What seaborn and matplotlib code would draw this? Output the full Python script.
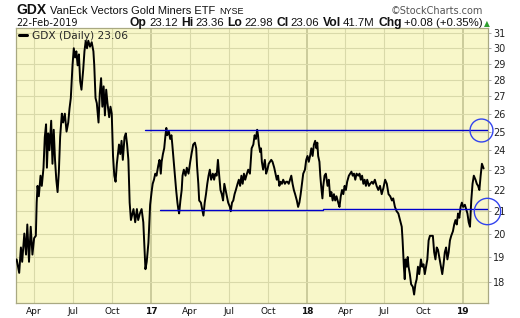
import matplotlib
matplotlib.use("Agg")
import matplotlib.pyplot as plt
import seaborn as sns
import pandas as pd

# ---------------- data ----------------
dates_2016 = ["2016-02-20", "2016-02-26", "2016-03-01", "2016-03-04", "2016-03-09", "2016-03-13",
              "2016-03-16", "2016-03-20", "2016-03-24", "2016-03-28", "2016-04-01", "2016-04-05",
              "2016-04-07", "2016-04-09", "2016-04-12", "2016-04-16", "2016-04-19", "2016-04-23",
              "2016-04-26", "2016-04-29", "2016-05-01", "2016-05-04", "2016-05-07", "2016-05-11",
              "2016-05-14", "2016-05-17", "2016-05-20", "2016-05-23", "2016-05-26", "2016-05-29",
              "2016-06-01", "2016-06-05", "2016-06-08", "2016-06-12", "2016-06-16", "2016-06-20",
              "2016-06-23", "2016-06-26", "2016-06-30", "2016-07-03", "2016-07-06", "2016-07-09",
              "2016-07-12", "2016-07-15", "2016-07-18", "2016-07-21", "2016-07-25", "2016-07-28",
              "2016-07-31", "2016-08-03", "2016-08-06", "2016-08-10", "2016-08-14", "2016-08-18",
              "2016-08-20", "2016-08-23", "2016-08-26", "2016-08-30", "2016-09-02", "2016-09-05",
              "2016-09-08", "2016-09-11", "2016-09-14", "2016-09-17", "2016-09-20", "2016-09-24",
              "2016-09-27", "2016-09-30", "2016-10-03", "2016-10-06", "2016-10-09", "2016-10-12",
              "2016-10-17", "2016-10-20", "2016-10-23", "2016-10-26", "2016-10-30", "2016-11-02",
              "2016-11-05", "2016-11-08", "2016-11-11", "2016-11-14", "2016-11-20", "2016-11-24",
              "2016-11-28", "2016-12-01", "2016-12-05", "2016-12-09", "2016-12-13", "2016-12-15",
              "2016-12-18", "2016-12-21", "2016-12-25", "2016-12-29"]
close_2016 = [18.9, 18.35, 19.4, 18.8, 20.0, 19.1,
              20.4, 18.8, 20.3, 19.1, 19.8, 19.9,
              21.4, 22.2, 21.7, 22.7, 22.2, 23.1,
              24.7, 25.4, 23.1, 24.9, 24.0, 25.6,
              23.3, 25.1, 23.5, 22.5, 21.9, 22.9,
              24.7, 26.0, 25.5, 26.0, 25.0, 25.5,
              26.3, 26.9, 28.9, 30.0, 29.4, 29.8,
              28.9, 29.6, 27.9, 27.4, 28.6, 29.8,
              30.5, 30.0, 30.5, 30.1, 30.4, 29.8,
              28.9, 26.9, 26.6, 25.5, 27.2, 28.1,
              26.4, 27.6, 25.9, 27.4, 26.6, 25.8,
              26.4, 26.0, 23.7, 22.7, 22.4, 23.3,
              24.3, 23.8, 24.5, 23.5, 24.7, 24.9,
              24.3, 23.5, 21.4, 20.6, 21.1, 20.5,
              21.1, 20.6, 20.9, 21.1, 20.5, 19.7,
              18.5, 18.8, 19.6, 21.3]

dates_2017 = ["2017-01-02", "2017-01-04", "2017-01-07", "2017-01-10", "2017-01-13", "2017-01-17",
              "2017-01-20", "2017-01-23", "2017-01-25", "2017-01-28", "2017-01-31", "2017-02-03",
              "2017-02-05", "2017-02-07", "2017-02-11", "2017-02-14", "2017-02-17", "2017-02-19",
              "2017-02-22", "2017-02-25", "2017-02-28", "2017-03-03", "2017-03-05", "2017-03-07",
              "2017-03-10", "2017-03-13", "2017-03-15", "2017-03-18", "2017-03-22", "2017-03-25",
              "2017-03-29", "2017-04-02", "2017-04-05", "2017-04-09", "2017-04-13", "2017-04-16",
              "2017-04-18", "2017-04-21", "2017-04-23", "2017-04-27", "2017-04-30", "2017-05-03",
              "2017-05-06", "2017-05-09", "2017-05-12", "2017-05-15", "2017-05-18", "2017-05-21",
              "2017-05-25", "2017-05-28", "2017-05-31", "2017-06-03", "2017-06-06", "2017-06-09",
              "2017-06-12", "2017-06-15", "2017-06-18", "2017-06-21", "2017-06-24", "2017-06-27",
              "2017-06-30", "2017-07-04", "2017-07-06", "2017-07-09", "2017-07-12", "2017-07-15",
              "2017-07-18", "2017-07-22", "2017-07-25", "2017-07-28", "2017-07-31", "2017-08-03",
              "2017-08-06", "2017-08-09", "2017-08-13", "2017-08-16", "2017-08-20", "2017-08-24",
              "2017-08-28", "2017-08-31", "2017-09-03", "2017-09-06", "2017-09-08", "2017-09-10",
              "2017-09-13", "2017-09-15", "2017-09-17", "2017-09-20", "2017-09-24", "2017-09-27",
              "2017-09-30", "2017-10-03", "2017-10-06", "2017-10-09", "2017-10-12", "2017-10-16",
              "2017-10-19", "2017-10-22", "2017-10-25", "2017-10-28", "2017-10-31", "2017-11-03",
              "2017-11-06", "2017-11-10", "2017-11-13", "2017-11-16", "2017-11-19", "2017-11-22",
              "2017-11-25", "2017-11-28", "2017-12-01", "2017-12-04", "2017-12-08", "2017-12-11",
              "2017-12-14", "2017-12-17", "2017-12-20", "2017-12-23", "2017-12-27", "2017-12-30"]
close_2017 = [22.0, 22.3, 22.5, 22.8, 22.7, 23.2,
              23.5, 22.8, 23.4, 23.8, 24.1, 24.8,
              25.2, 24.8, 25.0, 24.6, 24.8, 24.3,
              23.5, 22.7, 22.0, 21.4, 21.1, 20.9,
              21.5, 22.0, 22.7, 23.0, 22.7, 23.1,
              22.8, 23.4, 23.8, 24.3, 24.4, 24.1,
              23.2, 22.3, 21.5, 21.4, 21.1, 20.8,
              21.4, 21.8, 22.3, 22.7, 23.0, 22.5,
              22.8, 22.5, 22.8, 22.7, 23.5, 22.7,
              22.0, 21.8, 21.5, 22.3, 22.0, 21.7,
              21.4, 21.2, 21.0, 21.4, 21.5, 21.8,
              22.0, 22.3, 22.5, 22.2, 22.7, 22.3,
              22.8, 22.5, 22.8, 23.0, 22.8, 24.1,
              24.3, 24.8, 24.6, 25.1, 24.8, 24.3,
              23.9, 24.1, 23.4, 23.0, 23.5, 22.8,
              23.0, 23.3, 23.4, 23.5, 23.4, 23.1,
              22.8, 22.5, 22.7, 22.2, 22.4, 22.3,
              22.5, 22.3, 22.4, 22.4, 22.3, 22.5,
              22.7, 22.3, 22.0, 21.8, 21.5, 21.2,
              21.4, 21.8, 22.3, 22.8, 23.0, 23.5]

dates_2018 = ["2018-01-02", "2018-01-05", "2018-01-08", "2018-01-11", "2018-01-14", "2018-01-17",
              "2018-01-20", "2018-01-23", "2018-01-25", "2018-01-27", "2018-01-30", "2018-02-01",
              "2018-02-03", "2018-02-06", "2018-02-08", "2018-02-11", "2018-02-14", "2018-02-18",
              "2018-02-21", "2018-02-24", "2018-02-27", "2018-03-02", "2018-03-05", "2018-03-08",
              "2018-03-11", "2018-03-15", "2018-03-18", "2018-03-21", "2018-03-24", "2018-03-27",
              "2018-03-30", "2018-04-02", "2018-04-05", "2018-04-09", "2018-04-12", "2018-04-15",
              "2018-04-18", "2018-04-21", "2018-04-24", "2018-04-27", "2018-05-01", "2018-05-04",
              "2018-05-07", "2018-05-10", "2018-05-13", "2018-05-16", "2018-05-19", "2018-05-22",
              "2018-05-26", "2018-05-29", "2018-06-02", "2018-06-05", "2018-06-09", "2018-06-13",
              "2018-06-17", "2018-06-21", "2018-06-25", "2018-06-29", "2018-07-03", "2018-07-07",
              "2018-07-11", "2018-07-15", "2018-07-19", "2018-07-22", "2018-07-26", "2018-07-30",
              "2018-08-03", "2018-08-07", "2018-08-11", "2018-08-13", "2018-08-16", "2018-08-18",
              "2018-08-20", "2018-08-23", "2018-08-25", "2018-08-27", "2018-08-30", "2018-09-02",
              "2018-09-06", "2018-09-09", "2018-09-12", "2018-09-15", "2018-09-18", "2018-09-21",
              "2018-09-25", "2018-09-28", "2018-10-01", "2018-10-04", "2018-10-07", "2018-10-10",
              "2018-10-13", "2018-10-16", "2018-10-19", "2018-10-23", "2018-10-26", "2018-10-29",
              "2018-11-01", "2018-11-04", "2018-11-07", "2018-11-10", "2018-11-14", "2018-11-17",
              "2018-11-20", "2018-11-23", "2018-11-26", "2018-11-29", "2018-12-02", "2018-12-05",
              "2018-12-09", "2018-12-12", "2018-12-15", "2018-12-18", "2018-12-21", "2018-12-24",
              "2018-12-27", "2018-12-30"]
close_2018 = [23.7, 23.4, 23.7, 24.1, 23.7, 24.3,
              24.5, 24.1, 24.4, 23.7, 23.4, 22.7,
              22.2, 21.6, 22.2, 22.7, 22.8, 22.2,
              22.5, 21.7, 21.9, 21.5, 21.8, 21.5,
              21.7, 21.4, 21.2, 21.7, 22.0, 21.8,
              22.2, 22.0, 22.4, 22.7, 22.8, 22.9,
              22.7, 22.8, 22.5, 22.8, 22.7, 22.8,
              22.5, 22.7, 22.3, 22.5, 22.2, 22.5,
              22.2, 22.3, 22.4, 22.3, 22.5, 22.2,
              22.0, 22.2, 21.8, 22.1, 22.5, 22.3,
              21.8, 21.7, 21.5, 21.6, 21.2, 21.0,
              20.9, 20.6, 20.3, 19.7, 18.6, 18.1,
              18.9, 18.6, 19.0, 18.6, 18.3, 17.9,
              17.8, 17.5, 17.9, 18.1, 18.6, 18.3,
              18.9, 18.6, 18.7, 18.3, 18.6, 18.9,
              19.7, 19.9, 19.9, 19.9, 19.2, 18.9,
              19.4, 19.3, 19.0, 18.7, 18.3, 18.7,
              19.2, 19.4, 18.9, 19.2, 19.7, 19.9,
              20.1, 20.4, 20.6, 20.4, 20.9, 20.7,
              21.2, 21.4]

dates_2019 = ["2019-01-02", "2019-01-06", "2019-01-09", "2019-01-12", "2019-01-15", "2019-01-18",
              "2019-01-21", "2019-01-24", "2019-01-27", "2019-01-31", "2019-02-03", "2019-02-06",
              "2019-02-09", "2019-02-12", "2019-02-15", "2019-02-19"]
close_2019 = [21.2, 21.3, 21.1, 20.9, 20.5, 20.3,
              21.5, 22.3, 22.7, 22.5, 22.3, 22.2,
              22.0, 22.7, 23.3, 23.06]

# drawn support / resistance lines
line_starts = ["2016-12-17", "2017-01-21", "2018-02-07"]
line_ends = ["2019-03-01", "2018-02-07", "2019-03-01"]
line_levels = [25.1, 21.07, 21.12]

# circled levels on the right edge
circle_dates = ["2019-02-13", "2019-02-27"]
circle_levels = [25.06, 21.0]

# axis ticks
tick_dates = ["2016-04-01", "2016-07-01", "2016-10-01", "2017-01-01", "2017-04-01", "2017-07-01",
              "2017-10-01", "2018-01-01", "2018-04-01", "2018-07-01", "2018-10-01", "2019-01-01"]
tick_labels = ["Apr", "Jul", "Oct", "17", "Apr", "Jul", "Oct", "18", "Apr", "Jul", "Oct", "19"]
y_ticks = [18, 19, 20, 21, 22, 23, 24, 25, 26, 27, 28, 29, 30, 31]
x_range = ["2016-02-18 12:00", "2019-03-01 06:00"]
y_range = [17.18, 31.36]

# ---------------- figure ----------------
W, H = 520, 318
sns.set_style("ticks")
plt.rcParams["font.family"] = ["DejaVu Sans"]

df = pd.DataFrame({
    "date": pd.to_datetime(dates_2016 + dates_2017 + dates_2018 + dates_2019),
    "close": close_2016 + close_2017 + close_2018 + close_2019,
})

fig = plt.figure(figsize=(W / 100, H / 100), dpi=100)
fig.patch.set_facecolor("white")
ax = fig.add_axes([16 / W, 1 - 303 / H, (488 - 16) / W, (303 - 28) / H])
ax.set_facecolor("#F8F7C9")

ax.set_yscale("log")
ax.set_xlim(pd.to_datetime(x_range[0]), pd.to_datetime(x_range[1]))
ax.set_ylim(*y_range)

grid_col = "#D9D9A9"
tick_ts = pd.to_datetime(tick_dates)
for d, lab in zip(tick_ts, tick_labels):
    is_year = lab.isdigit()
    ax.axvline(d, color="#BFC08F" if is_year else grid_col,
               lw=1.1 if is_year else 0.8, zorder=0.5)
for v in y_ticks:
    ax.axhline(v, color=grid_col, lw=0.8, zorder=0.5)

sns.lineplot(data=df, x="date", y="close", ax=ax, color="black", lw=1.4,
             label="GDX (Daily) 23.06", zorder=3)

line_col = "#0000CC"
for s, e, lv in zip(line_starts, line_ends, line_levels):
    ax.plot([pd.to_datetime(s), pd.to_datetime(e)], [lv, lv], color=line_col, lw=1.0, zorder=4)

for d, lv, ms in zip(circle_dates, circle_levels, [16.5, 19.0]):
    ax.plot([pd.to_datetime(d)], [lv], marker="o", ms=ms, mfc="none", mec="#3344EE",
            mew=1.0, ls="none", clip_on=False, zorder=5)

ax.set_xticks(tick_ts)
ax.set_xticklabels(tick_labels)
for t, lab in zip(ax.get_xticklabels(), tick_labels):
    t.set_fontsize(6.5)
    t.set_color("#111111")
    if lab.isdigit():
        t.set_fontweight("bold")
ax.tick_params(axis="x", length=0, pad=3)

ax.yaxis.tick_right()
ax.set_yticks(y_ticks)
ax.set_yticklabels([str(v) for v in y_ticks])
ax.yaxis.set_minor_locator(matplotlib.ticker.NullLocator())
ax.tick_params(axis="y", length=2, width=0.6, color="#999999", pad=1.5,
               labelsize=7, labelcolor="#222222")
ax.set_xlabel("")
ax.set_ylabel("")
for sp in ax.spines.values():
    sp.set_visible(True)
    sp.set_color("#A9A982")
    sp.set_linewidth(0.9)

leg = ax.legend(loc="upper left", frameon=False, fontsize=7.7, handlelength=0.8,
                handletextpad=0.4, borderaxespad=0.15, borderpad=0.1)
for h in leg.get_lines():
    h.set_linewidth(2.2)

# ---------------- header texts ----------------
renderer = fig.canvas.get_renderer()


def run(x_px, y_px, pieces):
    x = x_px
    for txt, kw, gap in pieces:
        t = fig.text(x / W, 1 - y_px / H, txt, ha="left", va="baseline", **kw)
        bb = t.get_window_extent(renderer=renderer)
        x = bb.x1 + gap
    return x


sans = ["Liberation Sans", "DejaVu Sans"]
run(16, 14.5, [
    ("GDX", dict(fontsize=10, fontweight="bold", family=sans, color="#111111"), 4),
    ("VanEck Vectors Gold Miners ETF", dict(fontsize=8, family=sans, color="#111111"), 4),
    ("NYSE", dict(fontsize=6.5, family=sans, color="#111111"), 0),
])
fig.text(483 / W, 1 - 14.5 / H, "\u00a9StockCharts.com", ha="right", va="baseline",
         fontsize=7, family=["DejaVu Sans"], color="#555555")

run(16, 26, [("22-Feb-2019", dict(fontsize=7, family=["DejaVu Sans"], color="#111111"), 0)])
lab_kw = dict(fontsize=8.7, fontweight="bold", family=sans, color="#111111")
val_kw = dict(fontsize=8.2, family=sans, color="#111111")
run(130, 26, [
    ("Op", lab_kw, 2), ("23.12", val_kw, 3.5),
    ("Hi", lab_kw, 2), ("23.36", val_kw, 3.5),
    ("Lo", lab_kw, 2), ("22.98", val_kw, 3.5),
    ("Cl", lab_kw, 2), ("23.06", val_kw, 3.5),
    ("Vol", lab_kw, 2), ("41.7M", val_kw, 3.5),
    ("Chg", lab_kw, 2), ("+0.08 (+0.35%)", val_kw, 2),
    ("\u25b2", dict(fontsize=5.5, family=["DejaVu Sans"], color="#2E9E2E"), 0),
])

fig.savefig("out.png", dpi=100, facecolor="white")
